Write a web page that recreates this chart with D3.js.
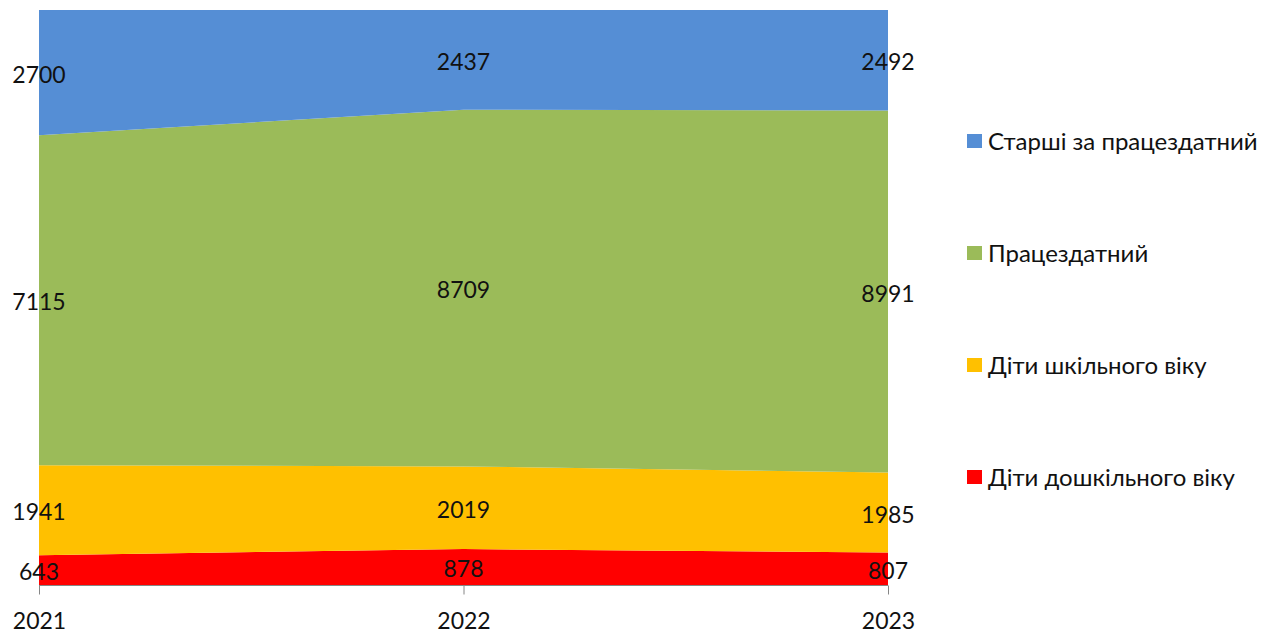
<!DOCTYPE html>
<html>
<head>
<meta charset="utf-8">
<script src="https://cdn.jsdelivr.net/npm/d3@7"></script>
<style>
  html, body { margin: 0; padding: 0; background: #fff; }
  svg { display: block; font-family: Lato, "Open Sans", sans-serif; }
</style>
</head>
<body>
<svg id="chart" width="1274" height="635"></svg>
<script>
// Population by age group, 2021–2023 (100% stacked area)
const years = ["2021", "2022", "2023"];
const preschool = [643, 878, 807];     // Діти дошкільного віку
const school = [1941, 2019, 1985];     // Діти шкільного віку
const working = [7115, 8709, 8991];    // Працездатний
const older = [2700, 2437, 2492];      // Старші за працездатний

const seriesKeys = ["preschool", "school", "working", "older"];
const seriesNames = {
  preschool: "Діти дошкільного віку",
  school: "Діти шкільного віку",
  working: "Працездатний",
  older: "Старші за працездатний"
};
const seriesColors = {
  preschool: "#FF0000",
  school: "#FFC000",
  working: "#9BBB59",
  older: "#558ED5"
};

const rows = years.map((y, i) => ({
  year: y,
  preschool: preschool[i],
  school: school[i],
  working: working[i],
  older: older[i]
}));

const svg = d3.select("#chart");
const plot = { left: 39, right: 888, top: 10, bottom: 585 };

const x = d3.scalePoint().domain(years).range([plot.left, plot.right]);
const y = d3.scaleLinear().domain([0, 1]).range([plot.bottom, plot.top]);

const stacked = d3.stack()
  .keys(seriesKeys)
  .offset(d3.stackOffsetExpand)(rows);

const area = d3.area()
  .x(d => x(d.data.year))
  .y0(d => y(d[0]))
  .y1(d => y(d[1]));

svg.append("g").selectAll("path")
  .data(stacked)
  .join("path")
  .attr("d", area)
  .attr("fill", d => seriesColors[d.key]);

// Category axis along the bottom
const axis = d3.axisBottom(x).tickSize(9).tickPadding(18);
const gx = svg.append("g")
  .attr("transform", `translate(0,${plot.bottom + 0.5})`)
  .call(axis);
gx.select(".domain").attr("stroke", "#868686").attr("d", `M${plot.left},0H${plot.right}`);
gx.selectAll(".tick line").attr("stroke", "#868686");
gx.selectAll(".tick text")
  .attr("font-family", "Lato, 'Open Sans', sans-serif")
  .attr("font-size", 23)
  .attr("fill", "#111")
  .attr("dy", "0.71em");

// Value labels centred in each band
const labels = svg.append("g")
  .attr("font-size", 23)
  .attr("fill", "#111")
  .attr("text-anchor", "middle");
stacked.forEach(s => {
  s.forEach(d => {
    labels.append("text")
      .attr("x", x(d.data.year))
      .attr("y", y((d[0] + d[1]) / 2) + 2)
      .attr("dy", "0.35em")
      .text(d.data[s.key]);
  });
});

// Legend, top series first
const legendKeys = ["older", "working", "school", "preschool"];
const legendRows = [141, 253, 365, 477];
const legend = svg.append("g");
legendKeys.forEach((k, i) => {
  const g = legend.append("g").attr("transform", `translate(967,${legendRows[i]})`);
  g.append("rect").attr("x", 0).attr("y", -7).attr("width", 15).attr("height", 14)
    .attr("fill", seriesColors[k]);
  g.append("text").attr("x", 21).attr("y", 1).attr("dy", "0.35em")
    .attr("font-size", 24).attr("fill", "#111")
    .text(seriesNames[k]);
});
</script>
</body>
</html>
